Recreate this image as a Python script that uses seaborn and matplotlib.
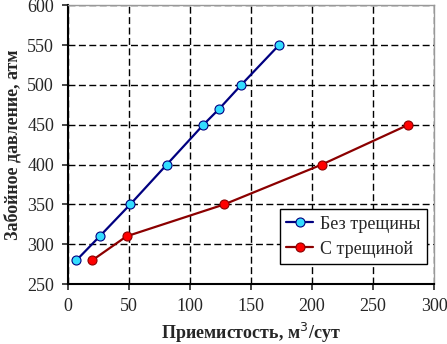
import pandas as pd
import seaborn as sns
import matplotlib.pyplot as plt

# Data
q_no_frac = [7, 26, 51, 81, 111, 124, 142, 173]
p_no_frac = [280, 310, 350, 400, 450, 470, 500, 550]
q_frac = [20, 48, 128, 208, 279]
p_frac = [280, 310, 350, 400, 450]
series_names = ['Без трещины', 'С трещиной']
x_ticks = [0, 50, 100, 150, 200, 250, 300]
y_ticks = [250, 300, 350, 400, 450, 500, 550, 600]

df = pd.concat([
    pd.DataFrame({'q': q_no_frac, 'p': p_no_frac, 'series': series_names[0]}),
    pd.DataFrame({'q': q_frac, 'p': p_frac, 'series': series_names[1]}),
])

sns.set_style('white')
plt.rcParams['font.family'] = ['Liberation Serif', 'DejaVu Serif']
plt.rcParams['font.size'] = 13

fig = plt.figure(figsize=(4.47, 3.44), dpi=100)
ax = fig.add_axes([0.152, 0.174, 0.819, 0.811])

line_colors = {series_names[0]: '#000080', series_names[1]: '#8B0000'}
face_colors = {series_names[0]: '#33DDFF', series_names[1]: '#FF0000'}

for name in series_names:
    sub = df[df['series'] == name]
    sns.lineplot(data=sub, x='q', y='p', ax=ax, color=line_colors[name],
                 marker='o', markersize=6.5, markerfacecolor=face_colors[name],
                 markeredgecolor=line_colors[name], markeredgewidth=0.8,
                 linewidth=1.6, label=name, sort=False)

ax.set_xlim(0, 300)
ax.set_ylim(250, 600)
ax.set_xticks(x_ticks)
ax.set_yticks(y_ticks)
ax.grid(True, color='black', linestyle=(0, (5, 2.5)), linewidth=1.0)
ax.set_axisbelow(True)

for side in ['left', 'bottom']:
    ax.spines[side].set_color('black')
    ax.spines[side].set_linewidth(1.5)
for side in ['top', 'right']:
    ax.spines[side].set_color('#999999')
    ax.spines[side].set_linewidth(1.0)

ax.tick_params(axis='both', direction='out', length=4, width=1.2,
               labelsize=13, left=True, bottom=True, pad=6)

ax.set_xlabel('Приемистость, м$^3$/сут', fontsize=13, fontweight='bold')
ax.set_ylabel('Забойное давление, атм', fontsize=13, fontweight='bold')

leg = ax.legend(loc='lower right', bbox_to_anchor=(0.981, 0.072), fontsize=13,
                frameon=True, fancybox=False, framealpha=1,
                edgecolor='black', handlelength=1.5, handletextpad=0.4,
                borderpad=0.35, borderaxespad=0, labelspacing=0.45)
leg.get_frame().set_linewidth(1.0)

fig.savefig('out.png', dpi=100)
